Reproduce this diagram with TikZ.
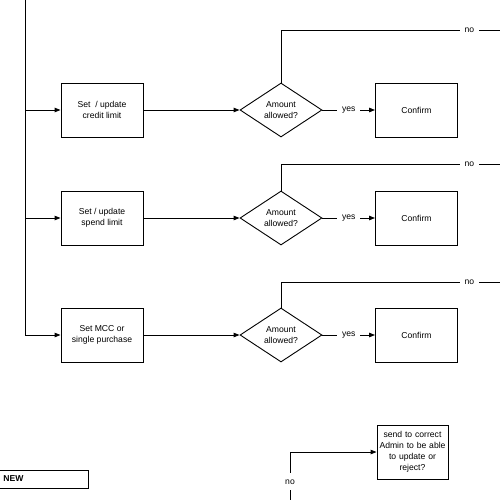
\documentclass[tikz,border=0pt]{standalone}
\usepackage{fontspec}
\setmainfont{Liberation Sans}
\usetikzlibrary{shapes.geometric,arrows.meta}
\begin{document}
\begin{tikzpicture}[x=1pt,y=-1pt,line width=0.9pt,
  >={Triangle[length=6pt,width=4.5pt]},
  every node/.style={font=\fontsize{8.6}{11}\selectfont,align=center},
  stepbox/.style={shape=rectangle,draw,minimum width=82pt,minimum height=54pt,inner sep=0pt},
  askbox/.style={shape=diamond,draw,aspect=1.5,inner sep=0pt,minimum width=82pt,minimum height=54pt},
  lbl/.style={fill=white,inner xsep=5pt,inner ysep=1pt}]
\useasboundingbox (0,0) rectangle (500,500);
% left spine
\coordinate (spine) at (25,0);
% rows
\node[stepbox] (s1) at (102,110) {Set\ \ / update\\credit limit};
\node[askbox] (d1) at (281,110) {Amount\\allowed?};
\node[stepbox] (c1) at (416.5,110) {Confirm};
\node[stepbox] (s2) at (102,218) {Set / update\\spend limit};
\node[askbox] (d2) at (281,218) {Amount\\allowed?};
\node[stepbox] (c2) at (416.5,218) {Confirm};
\node[stepbox] (s3) at (102,335) {Set MCC or\\single purchase};
\node[askbox] (d3) at (281,335) {Amount\\allowed?};
\node[stepbox] (c3) at (416.5,335) {Confirm};
\coordinate (n1) at (281,30);  \coordinate (e1) at (500,30);
\coordinate (n2) at (281,164); \coordinate (e2) at (500,164);
\coordinate (n3) at (281,282); \coordinate (e3) at (500,282);
% spine and branches
\draw[->] (spine) |- (s3.west);
\draw[->] (spine |- s1.west) -- (s1.west);
\draw[->] (spine |- s2.west) -- (s2.west);
\draw[->] (s1) -- (d1);
\draw[->] (s2) -- (d2);
\draw[->] (s3) -- (d3);
\draw[->] (d1) -- node[lbl]{yes} (c1);
\draw[->] (d2) -- node[lbl]{yes} (c2);
\draw[->] (d3) -- node[lbl]{yes} (c3);
\draw (d1.north) -- (n1) -- node[lbl,pos=0.86]{no} (e1);
\draw (d2.north) -- (n2) -- node[lbl,pos=0.86]{no} (e2);
\draw (d3.north) -- (n3) -- node[lbl,pos=0.86]{no} (e3);
% bottom
\node[stepbox,minimum width=71pt,text width=70pt] (admin) at (412.5,452) {send to correct\\Admin to be able\\to update or\\reject?};
\coordinate (b0) at (290,500);
\coordinate (b1) at (290,452);
\draw[->] (b0) -- node[lbl,pos=0.38,inner xsep=1pt,inner ysep=6pt]{no} (b1) -- (admin.west);
\node[draw,anchor=west,minimum width=90pt,minimum height=18pt,text width=80pt,align=left,inner xsep=5pt] (new) at (-2,479) {\textbf{NEW}};
\end{tikzpicture}
\end{document}
